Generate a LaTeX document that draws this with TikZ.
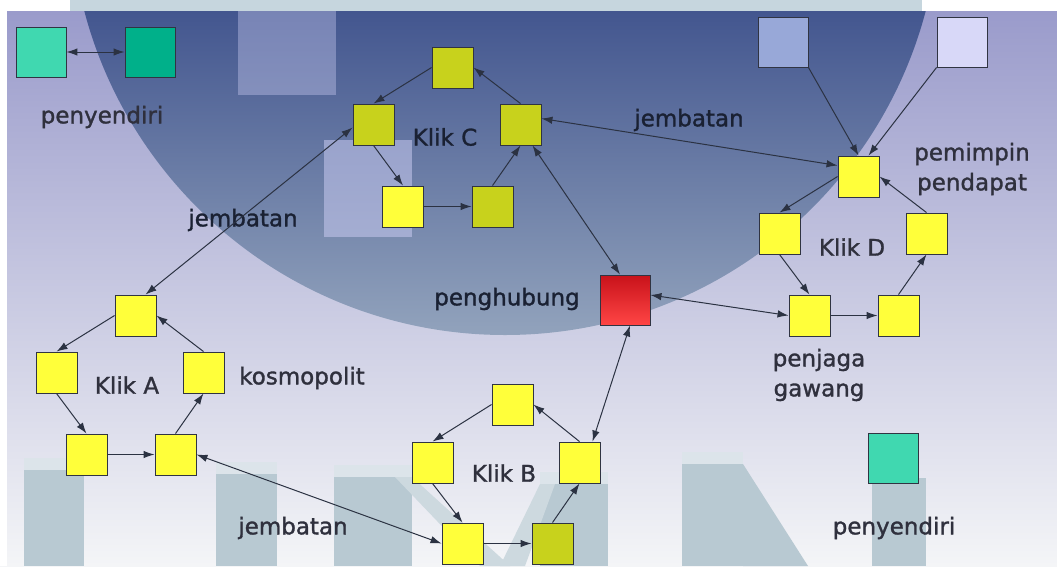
\documentclass[tikz,border=0pt]{standalone}
\usepackage{fontspec}
\setmainfont[FakeBold=1.3]{DejaVu Sans}
\usetikzlibrary{arrows.meta,calc}
\definecolor{bgtop}{HTML}{9A9BCB}
\definecolor{bgmid}{HTML}{CFD2E7}
\definecolor{bgbot}{HTML}{F4F5F7}
\definecolor{circtop}{HTML}{43568F}
\definecolor{circbot}{HTML}{93A4BD}
\definecolor{stripcol}{HTML}{C6D6DE}
\definecolor{umncol}{HTML}{B8C9D2}
\definecolor{umnlight}{HTML}{DCE4EA}
\definecolor{lav}{HTML}{C8CAF0}
\definecolor{bordercol}{HTML}{303442}
\definecolor{arrowcol}{HTML}{2B3242}
\definecolor{yel}{HTML}{FFFF3A}
\definecolor{olive}{HTML}{C8D21C}
\definecolor{redA}{HTML}{C8121A}
\definecolor{redB}{HTML}{FF4545}
\definecolor{tealA}{HTML}{40D8B0}
\definecolor{tealB}{HTML}{00B08A}
\definecolor{purA}{HTML}{98A8D8}
\definecolor{purB}{HTML}{D8D8F8}
\definecolor{txtout}{HTML}{2F303D}
\definecolor{txtin}{HTML}{1A2133}
\begin{document}
\begin{tikzpicture}[x=1pt,y=-1pt,
  sq/.style={draw=bordercol, line width=0.9pt, minimum size=41pt, inner sep=0pt, fill=yel},
  bigsq/.style={sq, minimum size=50pt},
  arr/.style={-{Latex[length=11pt,width=7.5pt]}, line width=1pt, draw=arrowcol},
  biarr/.style={{Latex[length=11pt,width=7.5pt]}-{Latex[length=11pt,width=7.5pt]}, line width=1pt, draw=arrowcol},
  lbl/.style={inner sep=0pt, text=txtout, font=\fontsize{23}{30}\selectfont, align=center},
  lblin/.style={lbl, text=txtin}]
\useasboundingbox (0,0) rectangle (1057,566);
% background
\shade[top color=bgtop, middle color=bgmid, bottom color=bgbot] (0,11) rectangle (1057,566);
\fill[white] (0,0) rectangle (1057,11);
\fill[white] (0,0) rectangle (7,566);
% big circle watermark
\begin{scope}
  \clip (7,11) rectangle (1057,566);
  \clip (505,-100) circle (435);
  \shade[top color=circtop, bottom color=circbot] (0,11) rectangle (1057,340);
  \fill[lav, opacity=0.4] (238,11) rectangle (336,95);
  \fill[lav, opacity=0.55] (324,140) rectangle (412,237);
\end{scope}
\fill[stripcol] (70,0) rectangle (922,11);
% bottom letters watermark
\fill[umncol] (24,470) rectangle (84,566);
\fill[umnlight] (24,458) rectangle (84,470);
\fill[umncol] (216,474) rectangle (277,566);
\fill[umnlight] (216,462) rectangle (277,474);
\fill[umncol] (334,477) rectangle (412,566);
\fill[umnlight] (334,465) rectangle (412,477);
\fill[umncol!70!white] (395,477) -- (412,477) -- (510,566) -- (480,566) -- cycle;
\fill[umncol] (540,484) rectangle (608,566);
\fill[umnlight] (540,472) rectangle (608,484);
\fill[umncol!70!white] (540,484) -- (555,484) -- (525,566) -- (500,566) -- cycle;
\fill[umncol] (682,464) rectangle (743,566);
\fill[umnlight] (682,452) rectangle (743,464);
\fill[umncol] (743,464) -- (808,566) -- (743,566) -- cycle;
\fill[umncol] (872,478) rectangle (926,566);

% isolates
\node[bigsq, fill=tealA] (T1) at (41,52) {};
\node[bigsq, fill=tealB] (T2) at (150,52) {};
\node[bigsq, fill=tealA] (T3) at (893.5,458.5) {};
% opinion sources
\node[bigsq, fill=purA] (P1) at (783,42) {};
\node[bigsq, fill=purB] (P2) at (962,42) {};
% liaison
\node[bigsq, top color=redA, bottom color=redB] (R) at (625,300) {};

% Klik C
\node[sq, fill=olive] (C1) at (452.5,67.5) {};
\node[sq, fill=olive] (C2) at (373.5,124.5) {};
\node[sq, fill=olive] (C3) at (520.5,124.5) {};
\node[sq] (C4) at (403,206.5) {};
\node[sq, fill=olive] (C5) at (492.5,206.5) {};
% Klik D
\node[sq] (D1) at (858.5,176.5) {};
\node[sq] (D2) at (779.5,233.5) {};
\node[sq] (D3) at (926.5,233.5) {};
\node[sq] (D4) at (809.5,315.5) {};
\node[sq] (D5) at (898.5,315.5) {};
% Klik A
\node[sq] (A1) at (135.5,315.5) {};
\node[sq] (A2) at (56.5,372.5) {};
\node[sq] (A3) at (203.5,372.5) {};
\node[sq] (A4) at (86.5,454.5) {};
\node[sq] (A5) at (175.5,454.5) {};
% Klik B
\node[sq] (B1) at (512.5,404.5) {};
\node[sq] (B2) at (432.5,462.5) {};
\node[sq] (B3) at (579.5,462.5) {};
\node[sq] (B4) at (462.5,543.5) {};
\node[sq, fill=olive] (B5) at (552.5,543.5) {};

% labels
\node[lbl] (Lpeny1) at (102,117) {penyendiri};
\node[lbl] (Lpeny2) at (894,528) {penyendiri};
\node[lblin] (Ljemb1) at (243,220) {jembatan};
\node[lblin] (Ljemb2) at (689,120) {jembatan};
\node[lbl] (Ljemb3) at (293,528) {jembatan};
\node[lblin] (Lpengh) at (507,299) {penghubung};
\node[lbl] (Lkosmo) at (302,378) {kosmopolit};
\node[lbl] (Lpemim) at (972,169) {pemimpin\\pendapat};
\node[lbl] (Lpenja) at (819,375) {penjaga\\gawang};
\node[lbl] (LA) at (127,385) {Klik A};
\node[lbl] (LB) at (504,473) {Klik B};
\node[lblin] (LC) at (445,137) {Klik C};
\node[lbl] (LD) at (852,247) {Klik D};

% isolate pair
\draw[biarr] (T1.east) -- (T2.west);
% Klik C cycle
\draw[arr] (C1.west) -- (C2.north);
\draw[arr] (C2.south) -- (C4.north);
\draw[arr] (C4.east) -- (C5.west);
\draw[arr] (C5.north) -- (C3.south);
\draw[arr] (C3.north) -- (C1.east);
% Klik D cycle
\draw[arr] (P1.south east) -- (D1.north);
\draw[arr] (P2.south west) -- ($(D1.north)+(10,0)$);
\draw[arr] (D1.west) -- (D2.north);
\draw[arr] (D2.south) -- (D4.north);
\draw[arr] (D4.east) -- (D5.west);
\draw[arr] (D5.north) -- (D3.south);
\draw[arr] (D3.north) -- (D1.east);
% Klik A cycle
\draw[arr] (A1.west) -- (A2.north);
\draw[arr] (A2.south) -- (A4.north);
\draw[arr] (A4.east) -- (A5.west);
\draw[arr] (A5.north) -- (A3.south);
\draw[arr] (A3.north) -- (A1.east);
% Klik B cycle
\draw[arr] (B1.west) -- (B2.north);
\draw[arr] (B2.south) -- (B4.north);
\draw[arr] (B4.east) -- (B5.west);
\draw[arr] (B5.north) -- (B3.south);
\draw[arr] (B3.north) -- (B1.east);
% bridges and liaison
\draw[biarr] ($(A1.north)+(10,0)$) -- ($(C2.west)+(0,3)$);
\draw[biarr] ($(C3.east)+(0,-6)$) -- ($(D1.west)+(0,-11)$);
\draw[biarr] (A5.east) -- (B4.west);
\draw[biarr] ($(C3.south)+(12,0)$) -- ($(R.north)+(-5,0)$);
\draw[biarr] ($(R.east)+(0,-5)$) -- (D4.west);
\draw[biarr] ($(R.south)+(5,0)$) -- ($(B3.north)+(13,0)$);
\end{tikzpicture}
\end{document}
